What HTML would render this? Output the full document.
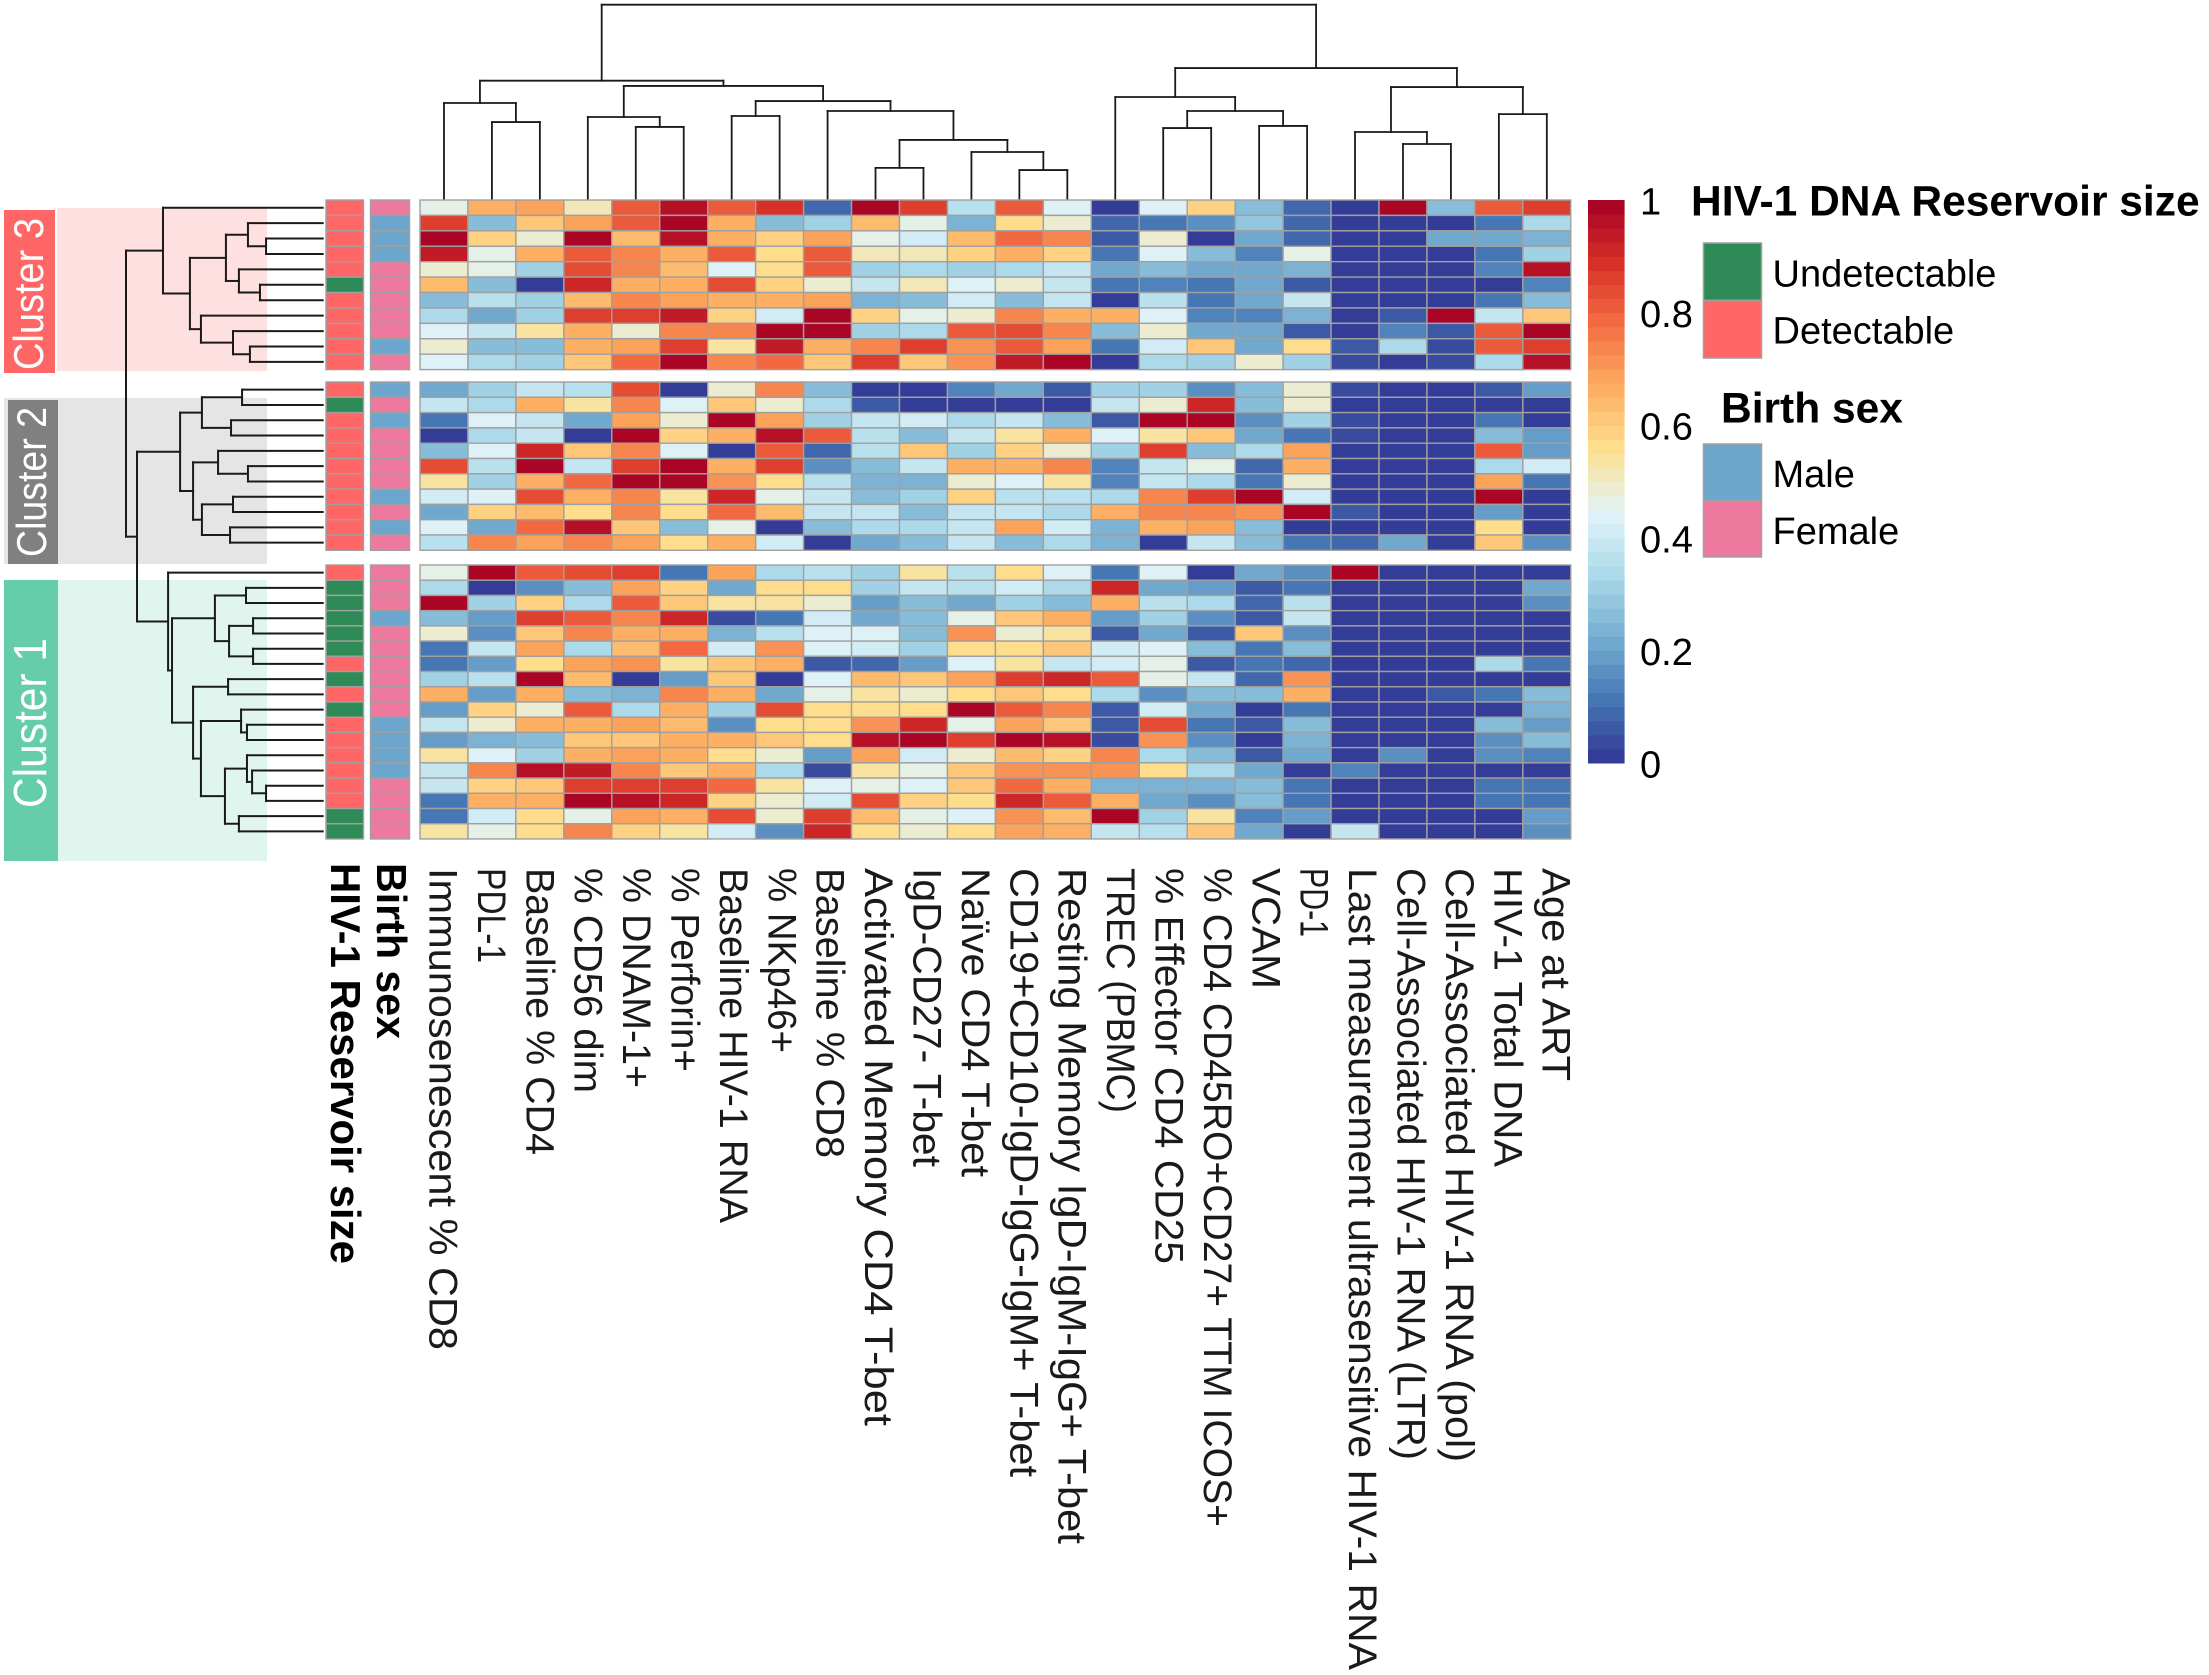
<!DOCTYPE html>
<html lang="en">
<head>
<meta charset="utf-8">
<title>HIV-1 reservoir clustered heatmap</title>
<style>
html,body{margin:0;padding:0;background:#fff;}
svg{display:block;}
text{font-family:"Liberation Sans",sans-serif;}
.cl{font-size:40px;fill:#1a1a1a;}
</style>
</head>
<body>
<svg id="chart" xmlns="http://www.w3.org/2000/svg" width="2209" height="1675" viewBox="0 0 2209 1675">
  <rect x="0" y="0" width="2209" height="1675" fill="#ffffff"/>
  <rect x="57" y="208" width="210" height="163" fill="#ffe0e0"/>
  <rect x="4" y="398" width="263" height="166" fill="#e5e5e5"/>
  <rect x="58" y="580" width="209" height="281" fill="#e0f5ee"/>
  <rect x="4" y="210" width="51" height="163" fill="#ff6666"/>
  <rect x="8" y="400" width="50" height="164" fill="#808080"/>
  <rect x="4" y="580" width="54" height="281" fill="#66cdaa"/>
  <text transform="translate(43,370) rotate(-90)" font-size="42" fill="#ffffff" textLength="152" lengthAdjust="spacingAndGlyphs">Cluster 3</text>
  <text transform="translate(46,557) rotate(-90)" font-size="42" fill="#ffffff" textLength="150" lengthAdjust="spacingAndGlyphs">Cluster 2</text>
  <text transform="translate(46,808) rotate(-90)" font-size="46" fill="#ffffff" textLength="170" lengthAdjust="spacingAndGlyphs">Cluster 1</text>
  <g id="row-tree"></g>
  <g id="col-tree"></g>
  <g id="annotations"></g>
  <g id="cells"></g>
  <g id="col-labels">
    <text class="cl" transform="translate(429.5,868) rotate(90)" textLength="482" lengthAdjust="spacingAndGlyphs">Immunosenescent % CD8</text>
    <text class="cl" transform="translate(477.9,868) rotate(90)" textLength="95" lengthAdjust="spacingAndGlyphs">PDL-1</text>
    <text class="cl" transform="translate(526.3,868) rotate(90)" textLength="287" lengthAdjust="spacingAndGlyphs">Baseline % CD4</text>
    <text class="cl" transform="translate(574.7,868) rotate(90)" textLength="225" lengthAdjust="spacingAndGlyphs">% CD56 dim</text>
    <text class="cl" transform="translate(623.1,868) rotate(90)" textLength="220" lengthAdjust="spacingAndGlyphs">% DNAM-1+</text>
    <text class="cl" transform="translate(671.5,868) rotate(90)" textLength="204" lengthAdjust="spacingAndGlyphs">% Perforin+</text>
    <text class="cl" transform="translate(719.9,868) rotate(90)" textLength="355" lengthAdjust="spacingAndGlyphs">Baseline HIV-1 RNA</text>
    <text class="cl" transform="translate(768.3,868) rotate(90)" textLength="185" lengthAdjust="spacingAndGlyphs">% NKp46+</text>
    <text class="cl" transform="translate(816.7,868) rotate(90)" textLength="290" lengthAdjust="spacingAndGlyphs">Baseline % CD8</text>
    <text class="cl" transform="translate(865.1,868) rotate(90)" textLength="558" lengthAdjust="spacingAndGlyphs">Activated Memory CD4 T-bet</text>
    <text class="cl" transform="translate(913.5,868) rotate(90)" textLength="299" lengthAdjust="spacingAndGlyphs">IgD-CD27- T-bet</text>
    <text class="cl" transform="translate(961.9,868) rotate(90)" textLength="309" lengthAdjust="spacingAndGlyphs">Naïve CD4 T-bet</text>
    <text class="cl" transform="translate(1010.3,868) rotate(90)" textLength="609" lengthAdjust="spacingAndGlyphs">CD19+CD10-IgD-IgG-IgM+ T-bet</text>
    <text class="cl" transform="translate(1058.7,868) rotate(90)" textLength="676" lengthAdjust="spacingAndGlyphs">Resting Memory IgD-IgM-IgG+ T-bet</text>
    <text class="cl" transform="translate(1107.1,868) rotate(90)" textLength="245" lengthAdjust="spacingAndGlyphs">TREC (PBMC)</text>
    <text class="cl" transform="translate(1155.5,868) rotate(90)" textLength="396" lengthAdjust="spacingAndGlyphs">% Effector CD4 CD25</text>
    <text class="cl" transform="translate(1203.9,868) rotate(90)" textLength="659" lengthAdjust="spacingAndGlyphs">% CD4 CD45RO+CD27+ TTM ICOS+</text>
    <text class="cl" transform="translate(1252.3,868) rotate(90)" textLength="121" lengthAdjust="spacingAndGlyphs">VCAM</text>
    <text class="cl" transform="translate(1300.7,868) rotate(90)" textLength="69" lengthAdjust="spacingAndGlyphs">PD-1</text>
    <text class="cl" transform="translate(1349.1,868) rotate(90)" textLength="802" lengthAdjust="spacingAndGlyphs">Last measurement ultrasensitive HIV-1 RNA</text>
    <text class="cl" transform="translate(1397.5,868) rotate(90)" textLength="592" lengthAdjust="spacingAndGlyphs">Cell-Associated HIV-1 RNA (LTR)</text>
    <text class="cl" transform="translate(1445.9,868) rotate(90)" textLength="594" lengthAdjust="spacingAndGlyphs">Cell-Associated HIV-1 RNA (pol)</text>
    <text class="cl" transform="translate(1494.3,868) rotate(90)" textLength="299" lengthAdjust="spacingAndGlyphs">HIV-1 Total DNA</text>
    <text class="cl" transform="translate(1542.7,868) rotate(90)" textLength="213" lengthAdjust="spacingAndGlyphs">Age at ART</text>
  </g>
  <text transform="translate(331,863) rotate(90)" font-size="41.5" font-weight="700" fill="#000" textLength="401" lengthAdjust="spacingAndGlyphs">HIV-1 Reservoir size</text>
  <text transform="translate(377,863) rotate(90)" font-size="41.5" font-weight="700" fill="#000" textLength="176" lengthAdjust="spacingAndGlyphs">Birth sex</text>
  <g id="colorbar"></g>
  <text x="1691" y="215.5" font-size="42.5" font-weight="700" fill="#000">HIV-1 DNA Reservoir size</text>
  <rect x="1703.5" y="243" width="58" height="57.5" fill="#2e8b57" stroke="#a0a0a0" stroke-width="1.5"/>
  <rect x="1703.5" y="300.5" width="58" height="57.5" fill="#ff6666" stroke="#a0a0a0" stroke-width="1.5"/>
  <text x="1772.5" y="286.5" font-size="38" fill="#000">Undetectable</text>
  <text x="1772.5" y="343.5" font-size="38" fill="#000">Detectable</text>
  <text x="1721" y="422.5" font-size="42.5" font-weight="700" fill="#000">Birth sex</text>
  <rect x="1703.5" y="444" width="58" height="56.5" fill="#6ca6cd" stroke="#a0a0a0" stroke-width="1.5"/>
  <rect x="1703.5" y="500.5" width="58" height="56.5" fill="#ee799f" stroke="#a0a0a0" stroke-width="1.5"/>
  <text x="1772.5" y="487" font-size="38" fill="#000">Male</text>
  <text x="1772.5" y="544" font-size="38" fill="#000">Female</text>
</svg>
<script>
const cluster3Values = [
[.47,.65,.69,.52,.82,.95,.82,.89,.085,1,.87,.35,.80,.44,0,.44,.58,.27,.08,0,1,.27,.82,.87],
[.87,.27,.62,.69,.82,1,.67,.27,.31,.64,.47,.24,.57,.49,.09,.10,.15,.28,.09,0,0,0,.11,.33],
[.98,.58,.49,1,.63,.95,.67,.58,.69,.47,.41,.64,.78,.74,.05,.49,0,.22,.09,0,0,.20,.20,.24],
[.93,.47,.67,.80,.74,.67,.80,.55,.80,.52,.51,.58,.67,.58,.11,.44,.27,.14,.47,0,0,0,.11,.30],
[.49,.47,.30,.83,.74,.64,.44,.56,.80,.30,.33,.30,.33,.38,.22,.27,.22,.20,.24,0,0,0,.14,.95],
[.64,.27,0,.90,.65,.65,.83,.58,.49,.38,.52,.44,.49,.38,.10,.14,.11,.22,.07,0,0,0,0,.14],
[.25,.35,.30,.64,.74,.69,.67,.67,.69,.24,.27,.41,.27,.38,0,.37,.11,.20,.39,0,0,0,.12,.27],
[.33,.22,.30,.87,.87,.93,.58,.41,.98,.58,.47,.49,.74,.65,.65,.44,.14,.14,.24,0,.07,1,.38,.61],
[.44,.38,.53,.67,.49,.74,.74,1,1,.30,.33,.80,.83,.74,.25,.49,.22,.22,.07,.01,.14,.07,.82,1],
[.49,.25,.27,.67,.69,.87,.54,.93,.65,.74,.87,.71,.80,.69,.11,.41,.61,.22,.57,.07,.33,.03,.82,.85],
[.44,.33,.30,.62,.78,1,.74,.78,.61,.87,.61,.71,.93,1,.01,.33,.30,.49,.30,.03,.01,.04,.33,.95]
];

const cluster2Values = [
[.22,.30,.38,.35,.83,.01,.49,.74,.25,0,.02,.14,.20,.05,.30,.30,.15,.25,.49,.03,0,0,.05,.18],
[.38,.33,.65,.53,.74,.44,.61,.49,.33,.05,0,0,0,0,.38,.49,.92,.25,.49,0,0,0,0,0],
[.10,.44,.38,.22,.69,.49,1,.69,.30,.38,.41,.33,.38,.27,.05,1,1,.17,.30,.03,0,0,.12,0],
[0,.33,.38,0,.98,.58,.67,.95,.80,.35,.27,.38,.53,.67,.44,.53,.61,.22,.12,.03,0,0,.25,.18],
[.27,.44,.90,.62,.74,.44,0,.80,.09,.35,.62,.30,.58,.49,.30,.85,.27,.33,.69,0,0,0,.80,.18],
[.83,.35,1,.38,.87,.98,.65,.85,.15,.27,.38,.65,.67,.74,.14,.38,.47,.09,.67,0,0,0,.33,.41],
[.53,.30,.65,.78,1,1,.72,.56,.35,.24,.24,.49,.44,.53,.14,.38,.33,.12,.49,0,0,0,.69,.10],
[.41,.44,.83,.65,.74,.53,.92,.47,.38,.27,.30,.58,.35,.35,.33,.74,.87,1,.41,0,0,0,1,0],
[.22,.58,.63,.56,.74,.56,.78,.63,.38,.38,.27,.38,.38,.33,.65,.74,.74,.72,1,.05,0,0,.18,0],
[.44,.22,.78,.95,.61,.27,.47,0,.25,.33,.33,.38,.69,.41,.24,.65,.69,.25,0,0,0,0,.56,0],
[.35,.74,.69,.74,.69,.56,.67,.41,0,.20,.25,.38,.27,.33,.24,0,.38,.25,.10,.08,.20,0,.62,.15]
];

const cluster1Values = [
[.47,1,.80,.83,.87,.12,.69,.33,.35,.30,.53,.35,.56,.44,.12,.44,.01,.22,.15,1,0,0,.02,0],
[.33,0,.17,.25,.69,.58,.22,.56,.56,.30,.38,.35,.41,.33,.92,.22,.18,.05,.12,0,0,0,0,.22],
[1,.30,.58,.33,.80,.61,.53,.53,.49,.18,.25,.22,.30,.27,.65,.35,.33,.08,.35,0,0,0,0,.15],
[.27,.18,.85,.82,.74,.92,.03,.10,.41,.20,.25,.47,.61,.65,.18,.30,.17,.05,.39,0,0,0,0,0],
[.49,.17,.61,.74,.67,.67,.24,.35,.44,.44,.27,.72,.49,.53,.05,.20,.05,.61,.17,0,0,0,0,0],
[.10,.38,.69,.33,.63,.78,.41,.72,.44,.41,.30,.56,.57,.61,.41,.44,.27,.10,.27,0,0,0,0,0],
[.10,.18,.56,.69,.72,.53,.61,.65,.05,.08,.18,.44,.53,.38,.41,.47,.05,.10,.08,0,0,0,.33,.10],
[.30,.35,1,.63,0,.18,.62,0,.44,.63,.62,.69,.87,.92,.80,.47,.39,.08,.72,0,0,0,0,0],
[.65,.18,.67,.25,.24,.74,.67,.22,.47,.53,.49,.56,.61,.56,.33,.15,.27,.25,.65,0,0,.07,.10,.25],
[.18,.58,.49,.82,.33,.67,.30,.83,.56,.56,.56,.99,.80,.74,.05,.41,.22,0,.10,0,0,0,0,.24],
[.39,.49,.67,.67,.69,.63,.15,.57,.57,.71,.92,.47,.69,.61,.07,.83,.12,.07,.27,0,.02,0,.25,.18],
[.18,.24,.27,.61,.62,.67,.67,.61,.56,.97,1,.85,1,.97,.03,.72,.15,.02,.24,0,0,0,.17,.27],
[.53,.44,.30,.65,.69,.67,.56,.49,.18,.69,.41,.49,.63,.58,.74,.33,.27,.07,.22,0,.16,.02,.15,.14],
[.39,.74,.95,.93,.74,.61,.67,.33,.03,.53,.47,.61,.71,.72,.71,.56,.33,.20,0,.14,0,0,.02,0],
[.39,.58,.61,.87,.85,.87,.78,.53,.44,.47,.44,.61,.78,.65,.24,.24,.24,.25,.12,0,0,0,.12,.10],
[.10,.65,.65,1,.97,.90,.58,.49,.41,.83,.58,.56,.90,.80,.67,.22,.15,.25,.10,0,0,0,.10,.12],
[.12,.41,.56,.47,.69,.67,.83,.49,.87,.63,.47,.44,.72,.63,1,.30,.53,.14,.18,0,0,0,0,.18],
[.53,.47,.56,.74,.58,.53,.41,.17,.90,.56,.49,.56,.69,.65,.38,.35,.61,.22,0,.39,0,0,0,.17]
];

const cluster3Reservoir = ["D","D","D","D","D","U","D","D","D","D","D"];
const cluster2Reservoir = ["D","U","D","D","D","D","D","D","D","D","D"];
const cluster1Reservoir = ["D","U","U","U","U","U","D","U","D","U","D","D","D","D","D","D","U","U"];
const cluster3Sex = ["F","M","M","M","F","F","F","F","F","M","F"];
const cluster2Sex = ["M","F","M","F","F","F","F","M","F","M","F"];
const cluster1Sex = ["F","F","F","M","F","F","F","F","F","F","M","M","M","M","F","F","F","F"];

/* dendrograms: [merge height (0-100), left child, right child]; a number is a leaf index */
const rowDendrogram = [100,
  [81.2, 0,
    [67.5,
      [49.2, [38, 1, [28.8, 2, 3]], [42.6, 4, [31.9, 5, 6]]],
      [61.9, 7, [45.6, 8, [37, 9, 10]]]
    ]
  ],
  [94.4,
    [72.5,
      [61.4, [41, 11, 12], [46.6, 13, 14]],
      [65.9,
        [53.2, 15, [38, 16, 17]],
        [61.4, [45.6, 18, 19], [47.1, 20, 21]]
      ]
    ],
    [78.6, 22,
      [76.6,
        [54.8, [39, 23, 24], [47.6, [35.4, 25, 26], [35.4, 27, 28]]],
        [65.9,
          [48.1, 29, 30],
          [61.9,
            [41.5, 31, [38.5, 32, 33]],
            [49.7,
              [38.5, 34, [35.9, 35, [28.8, 36, 37]]],
              [42.6, 38, 39]
            ]
          ]
        ]
      ]
    ]
  ]
];

const columnDendrogram = [100,
  [60.9,
    [49.4, 0, [39.6, 1, 2]],
    [58.2,
      [42.2, 3, [37.1, 4, 5]],
      [50.4,
        [42.7, 6, 7],
        [45.3, 8,
          [30.4,
            [16, 9, 10],
            [24.2, 11, [14.9, 12, 13]]
          ]
        ]
      ]
    ]
  ],
  [67.4,
    [52.5, 14, [45.3, [36.5, 15, 16], [37.6, 17, 18]]],
    [57.6,
      [34.5, 19, [28.3, 20, 21]],
      [43.7, 22, 23]
    ]
  ]
];

const colorbarTicks = [0, 0.2, 0.4, 0.6, 0.8, 1];
const colorStops = ["#313695","#4575b4","#74add1","#abd9e9","#e0f3f8","#fee090","#fdae61","#f46d43","#d73027","#a50026"];
const reservoirColors = {D:"#ff6666", U:"#2e8b57"};
const sexColors = {M:"#6ca6cd", F:"#ee799f"};

const NS = "http://www.w3.org/2000/svg";
const HEAT_LEFT = 420, COL_W = 47.95;
const blocks = [
  {top:200, rowH:15.42, values:cluster3Values, res:cluster3Reservoir, sex:cluster3Sex},
  {top:382, rowH:15.3, values:cluster2Values, res:cluster2Reservoir, sex:cluster2Sex},
  {top:565, rowH:15.22, values:cluster1Values, res:cluster1Reservoir, sex:cluster1Sex}
];
const BAND_COUNT = 40;

function xCol(i){ return HEAT_LEFT + i * COL_W; }
function hToX(h){ return 322.7 - h * 1.967; }
function hToY(h){ return 199 - h * 1.943; }
function barY(v){ return 763 - v * 563; }

function hexToRgb(h){ return [1,3,5].map(function(k){ return parseInt(h.substr(k,2),16); }); }
function colorFor(v){
  var q = Math.min(BAND_COUNT - 1, Math.floor(Math.max(0, Math.min(1, v)) * BAND_COUNT));
  var t = (q + 0.5) / BAND_COUNT * (colorStops.length - 1);
  var a = Math.floor(t), f = t - a;
  var c1 = hexToRgb(colorStops[a]), c2 = hexToRgb(colorStops[Math.min(a + 1, colorStops.length - 1)]);
  return "rgb(" + c1.map(function(c, i){ return Math.round(c + (c2[i] - c) * f); }).join(",") + ")";
}
function svgEl(tag, attrs){
  var el = document.createElementNS(NS, tag);
  Object.keys(attrs).forEach(function(k){ el.setAttribute(k, attrs[k]); });
  return el;
}

/* row centres across the three gapped blocks */
var rowCentres = [];
blocks.forEach(function(b){
  b.values.forEach(function(_, r){ rowCentres.push(b.top + (r + 0.5) * b.rowH); });
});

/* heatmap + annotation cells */
var cellsG = document.getElementById("cells");
var annoG = document.getElementById("annotations");
blocks.forEach(function(b, bi){
  b.values.forEach(function(row, r){
    var y = b.top + r * b.rowH;
    row.forEach(function(v, c){
      var cell = svgEl("rect", {x:xCol(c), y:y, width:COL_W, height:b.rowH, fill:colorFor(v), stroke:"#a0a0a0", "stroke-width":1.4});
      
      
      cellsG.appendChild(cell);
    });
    var resCell = svgEl("rect", {x:326, y:y, width:37.5, height:b.rowH, fill:reservoirColors[b.res[r]], stroke:"#a0a0a0", "stroke-width":1.4});
    
    
    annoG.appendChild(resCell);
    var sexCell = svgEl("rect", {x:370.5, y:y, width:39, height:b.rowH, fill:sexColors[b.sex[r]], stroke:"#a0a0a0", "stroke-width":1.4});
    
    
    annoG.appendChild(sexCell);
  });
});

/* dendrograms */
function drawSegment(parent, name, x1, y1, x2, y2, width){
  var seg = svgEl("line", {x1:x1, y1:y1, x2:x2, y2:y2, stroke:"#1a1a1a", "stroke-width":width, "stroke-linecap":"square"});
  
  
  parent.appendChild(seg);
}
function drawRowNode(node, parent){
  if (typeof node === "number") return {x:hToX(0), y:rowCentres[node]};
  var a = drawRowNode(node[1], parent), b = drawRowNode(node[2], parent), x = hToX(node[0]);
  drawSegment(parent, 'row-tree-branch', x, a.y, a.x, a.y, 2);
  drawSegment(parent, 'row-tree-branch', x, b.y, b.x, b.y, 2);
  drawSegment(parent, 'row-tree-stem', x, a.y, x, b.y, 2);
  return {x:x, y:(a.y + b.y) / 2};
}
function drawColNode(node, parent){
  if (typeof node === "number") return {x:xCol(node) + COL_W / 2, y:hToY(0)};
  var a = drawColNode(node[1], parent), b = drawColNode(node[2], parent), y = hToY(node[0]);
  drawSegment(parent, 'column-tree-branch', a.x, y, a.x, a.y, 1.8);
  drawSegment(parent, 'column-tree-branch', b.x, y, b.x, b.y, 1.8);
  drawSegment(parent, 'column-tree-stem', a.x, y, b.x, y, 1.8);
  return {x:(a.x + b.x) / 2, y:y};
}
drawRowNode(rowDendrogram, document.getElementById("row-tree"));
drawColNode(columnDendrogram, document.getElementById("col-tree"));

/* colour bar */
var barG = document.getElementById("colorbar");
for (var k = 0; k < BAND_COUNT; k++) {
  var vLow = k / BAND_COUNT, vHigh = (k + 1) / BAND_COUNT;
  var band = svgEl("rect", {x:1588, y:barY(vHigh), width:36.6, height:barY(vLow) - barY(vHigh) + 0.5, fill:colorFor(vLow + 0.001)});
  
  
  barG.appendChild(band);
}
colorbarTicks.forEach(function(v){
  var t = svgEl("text", {x:1640, y:barY(v) + 14.5, "font-size":38, fill:"#000"});
  
  
  t.textContent = String(v);
  barG.appendChild(t);
});
</script>
</body>
</html>
